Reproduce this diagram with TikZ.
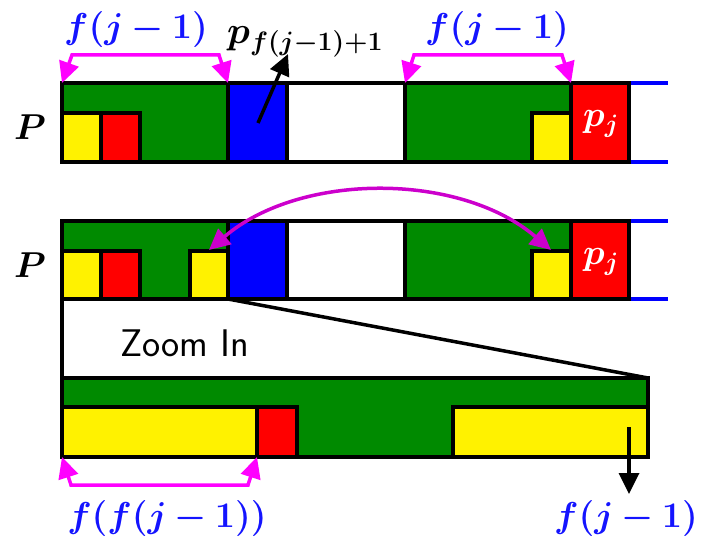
\RequirePackage{fix-cm}
\documentclass[tikz,border=0pt]{standalone}
\usepackage{amsmath}
\usepackage{bm}
\usetikzlibrary{arrows.meta}
\definecolor{dgreen}{RGB}{0,138,0}
\definecolor{mag}{RGB}{255,0,255}
\definecolor{dmag}{RGB}{204,0,204}
\definecolor{lblue}{RGB}{20,20,255}
\tikzset{
  cell/.style={draw=black, line width=4.3pt},
  bigtip/.tip={Triangle[length=21pt,width=20pt]},
  brk/.style={draw=mag, line width=3.5pt, bigtip-bigtip},
  lbl/.style={text=lblue, font=\fontsize{36}{40}\selectfont, inner sep=0pt},
  big/.style={font=\fontsize{36}{40}\selectfont, inner sep=0pt},
  railline/.style={draw=blue, line width=3.3pt}
}
\begin{document}
\begin{tikzpicture}[x=1pt,y=-1pt]
\useasboundingbox (0,0) rectangle (702,540);
% ---------- row 1 ----------
\path[cell,fill=dgreen] (62,83) rectangle (228,162);
\path[cell,fill=yellow] (62,113) rectangle (101,162);
\path[cell,fill=red] (101,113) rectangle (140,162);
\path[cell,fill=blue] (228,83) rectangle (287,162);
\path[cell,fill=white] (287,83) rectangle (405,162);
\path[cell,fill=dgreen] (405,83) rectangle (571,162);
\path[cell,fill=yellow] (532,113) rectangle (571,162);
\path[cell,fill=red] (571,83) rectangle (629,162);
\draw[railline] (631,83) -- (668,83);
\draw[railline] (631,162) -- (668,162);
\node[big] (P1) at (30,127) {$\bm{P}$};
\node[big,text=white] (pj1) at (601,124) {$\bm{p_j}$};
% brackets
\coordinate (a1) at (62,83); \coordinate (a2) at (228,83);
\draw[brk] (a1) -- (72,55) -- (219,55) -- (a2);
\coordinate (b1) at (405,83); \coordinate (b2) at (571,83);
\draw[brk] (b1) -- (414,55) -- (562,55) -- (b2);
\node[lbl] (L1) at (136,30) {$\bm{f(j-1)}$};
\node[lbl] (L2) at (497,30) {$\bm{f(j-1)}$};
\node[font=\fontsize{38}{42}\selectfont, inner sep=0pt,anchor=west] (pf) at (227,42) {$\bm{p_{f(j-1)+1}}$};
\coordinate (arS) at (258,123);
\draw[line width=3.5pt,-bigtip] (arS) -- (288,54);
% ---------- row 2 ----------
\path[cell,fill=dgreen] (62,221) rectangle (228,299);
\path[cell,fill=yellow] (62,251) rectangle (101,299);
\path[cell,fill=red] (101,251) rectangle (140,299);
\path[cell,fill=yellow] (190,251) rectangle (228,299);
\path[cell,fill=blue] (228,221) rectangle (287,299);
\path[cell,fill=white] (287,221) rectangle (405,299);
\path[cell,fill=dgreen] (405,221) rectangle (571,299);
\path[cell,fill=yellow] (532,251) rectangle (571,299);
\path[cell,fill=red] (571,221) rectangle (629,299);
\draw[railline] (631,221) -- (668,221);
\draw[railline] (631,299) -- (668,299);
\node[big] (P2) at (30,265) {$\bm{P}$};
\node[big,text=white] (pj2) at (601,262) {$\bm{p_j}$};
\coordinate (c1) at (209,250); \coordinate (c2) at (551,250);
\draw[draw=dmag, line width=3.5pt, bigtip-bigtip]
  (c1) .. controls (300,172) and (460,172) .. (c2);
% ---------- zoom ----------
\coordinate (z1) at (62,299); \coordinate (z2) at (62,378);
\coordinate (z3) at (228,299); \coordinate (z4) at (648,378);
\draw[line width=3.5pt] (z1) -- (z2);
\draw[line width=3.5pt] (z3) -- (z4);
\node[font=\sffamily\fontsize{38.5}{42}\selectfont, inner sep=0pt] (zi) at (185,343) {Zoom In};
\path[cell,fill=dgreen] (62,378) rectangle (648,457);
\path[cell,fill=yellow] (62,407) rectangle (257,457);
\path[cell,fill=red] (257,407) rectangle (297,457);
\path[cell,fill=yellow] (453,407) rectangle (648,457);
\coordinate (d1) at (629,427);
\draw[line width=3.5pt,-bigtip] (d1) -- (629,494);
\coordinate (e1) at (62,457); \coordinate (e2) at (257,457);
\draw[brk] (e1) -- (71,485) -- (248,485) -- (e2);
\node[lbl] (L3) at (167,518) {$\bm{f(f(j-1))}$};
\node[lbl] (L4) at (626,518) {$\bm{f(j-1)}$};
\end{tikzpicture}
\end{document}
